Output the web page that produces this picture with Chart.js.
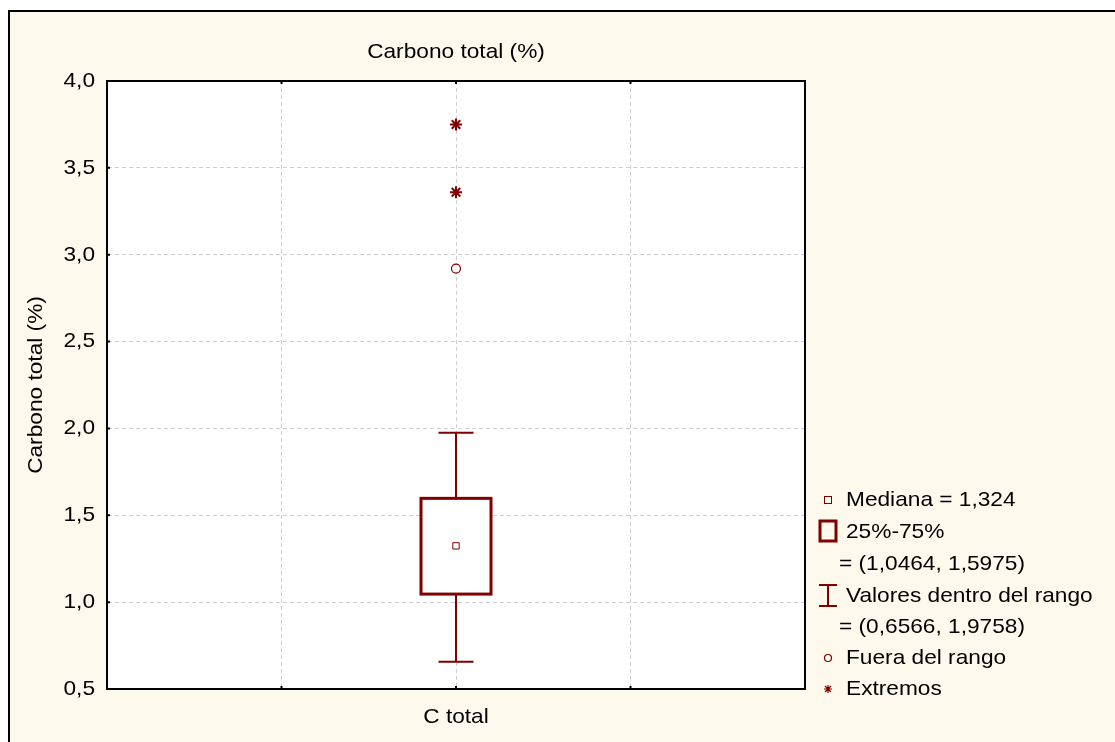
<!DOCTYPE html>
<html lang="es">
<head>
    <meta charset="UTF-8">
    <title>Carbono total (%)</title>
    <script src="https://cdn.jsdelivr.net/npm/chart.js"></script>
    <style>
        body { margin: 0; background: #fff; }
        canvas { display: block; }
    </style>
</head>
<body>
    <canvas id="boxChart" width="1115" height="742"></canvas>

    <script>
        // data
        const categories = ['C total'];
        const medians = [1.324];
        const q1 = [1.0464];
        const q3 = [1.5975];
        const whiskerLow = [0.6566];
        const whiskerHigh = [1.9758];
        const outliers = [2.92];
        const extremes = [3.36, 3.75];
        const yMin = 0.5, yMax = 4.0, yStep = 0.5;

        const dark = '#800000';
        const cream = '#fef9ed';
        const font = '"Liberation Sans", Arial, sans-serif';
        const fsize = 21;

        const fmt = v => v.toFixed(1).replace('.', ',');
        const num = v => String(v).replace('.', ',');

        // text a bit wider than Arial, like the original
        function wideText(ctx, text, x, y, align) {
            ctx.save();
            ctx.translate(x, y);
            ctx.scale(1.08, 1);
            ctx.textAlign = align;
            ctx.fillText(text, 0, 0);
            ctx.restore();
        }

        const framePlugin = {
            id: 'frame',
            beforeDraw(chart) {
                const ctx = chart.ctx;
                const a = chart.chartArea;
                ctx.save();
                ctx.fillStyle = '#fff';
                ctx.fillRect(0, 0, chart.width, chart.height);
                ctx.fillStyle = cream;
                ctx.fillRect(8, 10, chart.width, chart.height);
                ctx.strokeStyle = '#000';
                ctx.lineWidth = 2;
                ctx.beginPath();
                ctx.moveTo(9, chart.height + 2);
                ctx.lineTo(9, 11);
                ctx.lineTo(chart.width + 2, 11);
                ctx.stroke();
                ctx.fillStyle = '#fff';
                ctx.fillRect(a.left, a.top, a.right - a.left, a.bottom - a.top);
                ctx.restore();
            },
            beforeDatasetsDraw(chart) {
                const ctx = chart.ctx;
                const xs = chart.scales.x, ys = chart.scales.y;
                ctx.save();
                categories.forEach((c, i) => {
                    const x = xs.getPixelForValue(i);
                    const halfBox = 35, halfCap = 17.5;
                    ctx.strokeStyle = dark;
                    ctx.lineWidth = 2;
                    ctx.beginPath();
                    ctx.moveTo(x, ys.getPixelForValue(whiskerLow[i]));
                    ctx.lineTo(x, ys.getPixelForValue(q1[i]));
                    ctx.moveTo(x, ys.getPixelForValue(q3[i]));
                    ctx.lineTo(x, ys.getPixelForValue(whiskerHigh[i]));
                    ctx.moveTo(x - halfCap, ys.getPixelForValue(whiskerLow[i]));
                    ctx.lineTo(x + halfCap, ys.getPixelForValue(whiskerLow[i]));
                    ctx.moveTo(x - halfCap, ys.getPixelForValue(whiskerHigh[i]));
                    ctx.lineTo(x + halfCap, ys.getPixelForValue(whiskerHigh[i]));
                    ctx.stroke();
                    const top = ys.getPixelForValue(q3[i]);
                    const bot = ys.getPixelForValue(q1[i]);
                    ctx.fillStyle = '#fff';
                    ctx.fillRect(x - halfBox, top, halfBox * 2, bot - top);
                    ctx.lineWidth = 3;
                    ctx.strokeRect(x - halfBox, top, halfBox * 2, bot - top);
                });
                ctx.restore();
            },
            afterDraw(chart) {
                const ctx = chart.ctx;
                const a = chart.chartArea;
                const xs = chart.scales.x, ys = chart.scales.y;
                ctx.save();
                // plot frame + small inward ticks
                ctx.strokeStyle = '#000';
                ctx.lineWidth = 2;
                ctx.strokeRect(a.left, a.top, a.right - a.left, a.bottom - a.top);
                ctx.beginPath();
                ys.ticks.forEach(t => {
                    const y = ys.getPixelForValue(t.value);
                    ctx.moveTo(a.left, y);
                    ctx.lineTo(a.left + 3, y);
                });
                xs.ticks.forEach(t => {
                    const x = xs.getPixelForValue(t.value);
                    ctx.moveTo(x, a.bottom);
                    ctx.lineTo(x, a.bottom - 3);
                    ctx.moveTo(x, a.top);
                    ctx.lineTo(x, a.top + 3);
                });
                ctx.stroke();

                ctx.fillStyle = '#000';
                ctx.font = fsize + 'px ' + font;
                ctx.textBaseline = 'middle';

                // y tick labels
                ys.ticks.forEach(t => {
                    wideText(ctx, fmt(t.value), a.left - 12, ys.getPixelForValue(t.value), 'right');
                });
                // category labels
                categories.forEach((c, i) => {
                    wideText(ctx, c, xs.getPixelForValue(i), 717, 'center');
                });

                // titles
                wideText(ctx, 'Carbono total (%)', (a.left + a.right) / 2, 52, 'center');
                ctx.save();
                ctx.translate(36, (a.top + a.bottom) / 2);
                ctx.rotate(-Math.PI / 2);
                ctx.scale(1.08, 1);
                ctx.textAlign = 'center';
                ctx.fillText('Carbono total (%)', 0, 0);
                ctx.restore();

                // legend
                const i = 0;
                const mx = 828, tx = 846;
                const rows = [
                    ['Mediana = ' + num(medians[i]), tx, 500],
                    ['25%-75%', tx, 532],
                    ['= (' + num(q1[i]) + ', ' + num(q3[i]) + ')', 839, 564],
                    ['Valores dentro del rango', tx, 596],
                    ['= (' + num(whiskerLow[i]) + ', ' + num(whiskerHigh[i]) + ')', 839, 627],
                    ['Fuera del rango', tx, 658],
                    ['Extremos', tx, 689]
                ];
                rows.forEach(r => wideText(ctx, r[0], r[1], r[2], 'left'));

                ctx.strokeStyle = dark;
                ctx.lineWidth = 1;
                ctx.strokeRect(824.5, 496.5, 7, 7);
                ctx.lineWidth = 3;
                ctx.strokeRect(820, 521, 16, 20);
                ctx.lineWidth = 2;
                ctx.beginPath();
                ctx.moveTo(819, 585); ctx.lineTo(837, 585);
                ctx.moveTo(828, 585); ctx.lineTo(828, 606);
                ctx.moveTo(819, 606); ctx.lineTo(837, 606);
                ctx.stroke();
                ctx.lineWidth = 1.2;
                ctx.beginPath();
                ctx.arc(mx, 658, 3.5, 0, Math.PI * 2);
                ctx.stroke();
                ctx.beginPath();
                const sy = 689, r = 4;
                ctx.moveTo(mx, sy - r); ctx.lineTo(mx, sy + r);
                ctx.moveTo(mx - r, sy); ctx.lineTo(mx + r, sy);
                ctx.moveTo(mx - 3, sy - 3); ctx.lineTo(mx + 3, sy + 3);
                ctx.moveTo(mx - 3, sy + 3); ctx.lineTo(mx + 3, sy - 3);
                ctx.stroke();
                ctx.restore();
            }
        };

        const ctx = document.getElementById('boxChart').getContext('2d');
        new Chart(ctx, {
            type: 'scatter',
            data: {
                datasets: [
                    {
                        label: 'Mediana',
                        data: medians.map((m, i) => ({ x: i, y: m })),
                        pointStyle: 'rect',
                        pointRadius: 4.5,
                        backgroundColor: '#fff',
                        borderColor: dark,
                        borderWidth: 1
                    },
                    {
                        label: 'Fuera del rango',
                        data: outliers.map(v => ({ x: 0, y: v })),
                        pointStyle: 'circle',
                        pointRadius: 4.5,
                        backgroundColor: '#fff',
                        borderColor: dark,
                        borderWidth: 1.2
                    },
                    {
                        label: 'Extremos',
                        data: extremes.map(v => ({ x: 0, y: v })),
                        pointStyle: 'star',
                        pointRadius: 6,
                        borderColor: dark,
                        borderWidth: 2
                    }
                ]
            },
            options: {
                responsive: false,
                animation: false,
                layout: { padding: { left: 0, top: 81, right: 310, bottom: 53 } },
                plugins: {
                    legend: { display: false },
                    title: { display: false },
                    tooltip: { enabled: false }
                },
                scales: {
                    x: {
                        type: 'linear',
                        min: -2,
                        max: 2,
                        afterFit: s => { s.height = 0; },
                        afterBuildTicks: s => { s.ticks = [-1, 0, 1].map(v => ({ value: v })); },
                        grid: { color: '#cfcfcf', drawTicks: false },
                        border: { display: true, color: 'rgba(0,0,0,0)', dash: [4, 3] },
                        ticks: { display: false }
                    },
                    y: {
                        min: yMin,
                        max: yMax,
                        afterFit: s => { s.width = 107; },
                        grid: { color: '#cfcfcf', drawTicks: false },
                        border: { display: true, color: 'rgba(0,0,0,0)', dash: [4, 3] },
                        ticks: { display: false, stepSize: yStep }
                    }
                }
            },
            plugins: [framePlugin]
        });
    </script>
</body>
</html>
